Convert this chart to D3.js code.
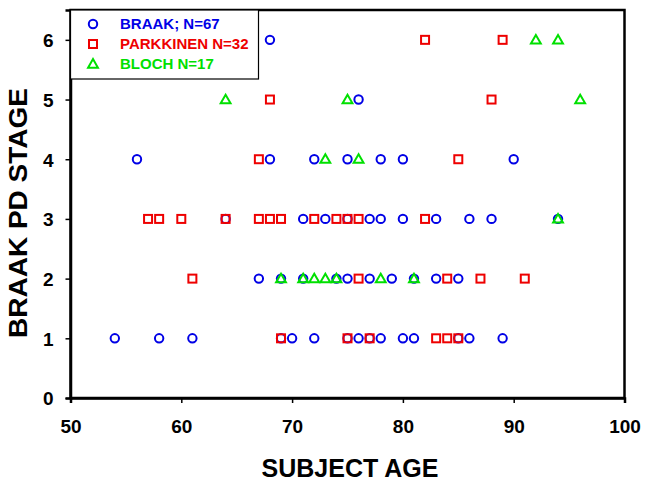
<!DOCTYPE html>
<html><head><meta charset="utf-8">
<script src="https://cdn.jsdelivr.net/npm/d3@7"></script>
<style>body{margin:0;background:#fff}svg{display:block}text{font-family:Arial,"Liberation Sans",sans-serif;font-weight:bold}</style>
</head><body><svg id="c" width="650" height="485"></svg>
<script>
// Data: [age, stage]
const braak = [
  [68,6],[76,5],
  [56,4],[68,4],[72,4],[75,4],[78,4],[80,4],[90,4],
  [64,3],[71,3],[73,3],[75,3],[77,3],[78,3],[80,3],[83,3],[86,3],[88,3],[94,3],
  [67,2],[69,2],[71,2],[74,2],[75,2],[77,2],[79,2],[81,2],[83,2],[85,2],
  [54,1],[58,1],[61,1],[69,1],[70,1],[72,1],[75,1],[76,1],[77,1],[78,1],[80,1],[81,1],[85,1],[86,1],[89,1]
];
const parkkinen = [
  [82,6],[89,6],[68,5],[88,5],[67,4],[85,4],
  [57,3],[58,3],[60,3],[64,3],[67,3],[68,3],[69,3],[72,3],[74,3],[75,3],[76,3],[82,3],
  [61,2],[76,2],[84,2],[87,2],[91,2],
  [69,1],[75,1],[77,1],[83,1],[84,1],[85,1]
];
const bloch = [
  [92,6],[94,6],[64,5],[75,5],[96,5],[73,4],[76,4],[94,3],
  [69,2],[71,2],[72,2],[73,2],[74,2],[78,2],[81,2]
];
const legendLabels = ["BRAAK; N=67","PARKKINEN N=32","BLOCH N=17"];
const xTicks = [50,60,70,80,90,100];
const yTicks = [0,1,2,3,4,5,6];

const svg = d3.select("#c");
const L=70.5, R=624.5, T=10, B=398;
const x = d3.scaleLinear().domain([50,100]).range([L,R]);
const y = d3.scaleLinear().domain([0,6.5]).range([B,T]);

const blue="#0000e6", red="#ee0000", green="#00e000";

// frame
svg.append("rect").attr("x",L).attr("y",T).attr("width",R-L).attr("height",B-T)
  .attr("fill","none").attr("stroke","#000").attr("stroke-width",2.5);

const xa = svg.append("g").attr("transform",`translate(0,${B})`)
  .call(d3.axisBottom(x).tickValues(xTicks).tickSize(5).tickFormat(d3.format("d")));
const ya = svg.append("g").attr("transform",`translate(${L},0)`)
  .call(d3.axisLeft(y).tickValues(yTicks).tickSize(5).tickFormat(d3.format("d")));
[xa,ya].forEach(a=>{
  a.select(".domain").attr("stroke","#000").attr("stroke-width",2.5);
  a.selectAll(".tick line").attr("stroke","#000").attr("stroke-width",1.5);
  a.selectAll(".tick text").attr("fill","#000").style("font-size","19px").style("font-weight","bold")
   .style("font-family","Arial, 'Liberation Sans', sans-serif");
});
xa.selectAll(".tick text").attr("y",35).attr("dy","0");
ya.selectAll(".tick text").attr("x",-17).attr("dy","0.36em");

// points
const g = svg.append("g");
const S = 8;
g.selectAll("circle.b").data(braak).join("circle").attr("class","b")
  .attr("cx",d=>x(d[0])).attr("cy",d=>y(d[1])).attr("r",4.2)
  .attr("fill","none").attr("stroke",blue).attr("stroke-width",2);
g.selectAll("rect.p").data(parkkinen).join("rect").attr("class","p")
  .attr("x",d=>x(d[0])-S/2).attr("y",d=>y(d[1])-S/2).attr("width",S).attr("height",S)
  .attr("fill","none").attr("stroke",red).attr("stroke-width",2);
const tri = d3.symbol().type(d3.symbolTriangle).size(42);
g.selectAll("path.t").data(bloch).join("path").attr("class","t")
  .attr("d",tri).attr("transform",d=>`translate(${x(d[0])},${y(d[1])+0.8})`)
  .attr("fill","none").attr("stroke",green).attr("stroke-width",2);

// legend
const lg = svg.append("g");
lg.append("rect").attr("x",L).attr("y",T).attr("width",188).attr("height",69)
  .attr("fill","#fff").attr("stroke","#000").attr("stroke-width",1.2);
const cols=[blue,red,green];
legendLabels.forEach((t,i)=>{
  const yy = 24 + i*20, mx=93;
  if(i===0) lg.append("circle").attr("cx",mx).attr("cy",yy).attr("r",4.2).attr("fill","none").attr("stroke",blue).attr("stroke-width",2);
  if(i===1) lg.append("rect").attr("x",mx-S/2).attr("y",yy-S/2).attr("width",S).attr("height",S).attr("fill","none").attr("stroke",red).attr("stroke-width",2);
  if(i===2) lg.append("path").attr("d",tri).attr("transform",`translate(${mx},${yy+0.8})`).attr("fill","none").attr("stroke",green).attr("stroke-width",2);
  lg.append("text").attr("x",120).attr("y",yy).attr("dy","0.36em").attr("fill",cols[i])
    .style("font-size","15px").text(t);
});

// axis titles
svg.append("text").attr("x",350).attr("y",477).attr("text-anchor","middle")
  .style("font-size","25px").text("SUBJECT AGE");
svg.append("text").attr("transform",`translate(27,213) rotate(-90)`).attr("text-anchor","middle")
  .attr("textLength",250).attr("lengthAdjust","spacingAndGlyphs")
  .style("font-size","25px").text("BRAAK PD STAGE");
</script></body></html>
